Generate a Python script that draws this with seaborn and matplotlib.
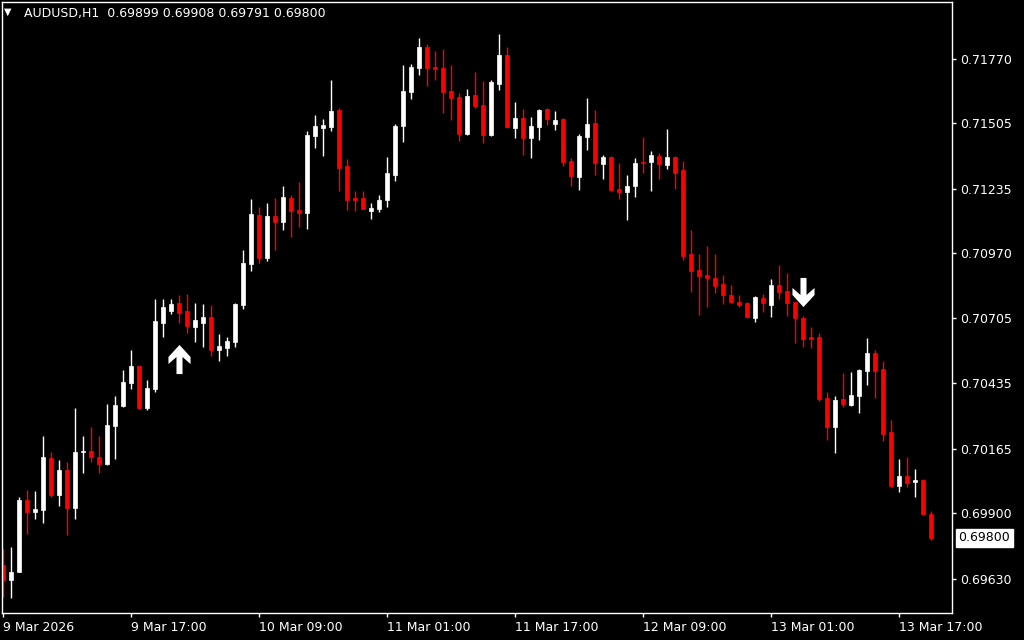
import numpy as np
import pandas as pd
import matplotlib
matplotlib.use("Agg")
import matplotlib.pyplot as plt
from matplotlib.path import Path
from matplotlib.ticker import FormatStrFormatter
import seaborn as sns

# --- data (AUDUSD H1) ---
symbol = "AUDUSD,H1"

opens = [0.69688, 0.69626, 0.69659, 0.69955, 0.69906, 0.69914, 0.70128, 0.69976, 0.70079, 0.69922,
         0.70153, 0.70157, 0.70132, 0.70103, 0.70260, 0.70342, 0.70437, 0.70507, 0.70334, 0.70412,
         0.70684, 0.70733, 0.70766, 0.70733, 0.70667, 0.70684, 0.70708, 0.70573, 0.70581, 0.70605,
         0.70758, 0.70926, 0.71128, 0.70951, 0.71124, 0.71099, 0.71198, 0.71149, 0.71136, 0.71453,
         0.71486, 0.71490, 0.71560, 0.71330, 0.71198, 0.71198, 0.71145, 0.71153, 0.71190, 0.71293,
         0.71494, 0.71634, 0.71733, 0.71819, 0.71737, 0.71733, 0.71638, 0.71614, 0.71461, 0.71622,
         0.71581, 0.71457, 0.71667, 0.71787, 0.71486, 0.71527, 0.71445, 0.71490, 0.71564, 0.71503,
         0.71523, 0.71350, 0.71284, 0.71449, 0.71507, 0.71338, 0.71367, 0.71235, 0.71223, 0.71247,
         0.71346, 0.71346, 0.71371, 0.71334, 0.71367, 0.71313, 0.70968, 0.70902, 0.70881, 0.70869,
         0.70844, 0.70799, 0.70770, 0.70766, 0.70704, 0.70787, 0.70758, 0.70840, 0.70815, 0.70770,
         0.70704, 0.70626, 0.70626, 0.70375, 0.70256, 0.70371, 0.70346, 0.70383, 0.70486, 0.70560,
         0.70494, 0.70235, 0.70013, 0.70054, 0.70029, 0.70038, 0.69899]
highs = [0.69754, 0.69762, 0.69968, 0.69996, 0.69992, 0.70219, 0.70153, 0.70120, 0.70112, 0.70334,
         0.70219, 0.70256, 0.70219, 0.70350, 0.70383, 0.70490, 0.70573, 0.70511, 0.70449, 0.70782,
         0.70782, 0.70782, 0.70799, 0.70803, 0.70766, 0.70762, 0.70758, 0.70638, 0.70626, 0.70765,
         0.70984, 0.71194, 0.71161, 0.71177, 0.71198, 0.71247, 0.71210, 0.71264, 0.71474, 0.71540,
         0.71523, 0.71684, 0.71568, 0.71358, 0.71227, 0.71227, 0.71177, 0.71210, 0.71367, 0.71503,
         0.71745, 0.71749, 0.71856, 0.71832, 0.71803, 0.71811, 0.71745, 0.71630, 0.71647, 0.71717,
         0.71680, 0.71684, 0.71873, 0.71819, 0.71593, 0.71564, 0.71531, 0.71564, 0.71568, 0.71556,
         0.71527, 0.71363, 0.71461, 0.71610, 0.71560, 0.71375, 0.71371, 0.71342, 0.71293, 0.71363,
         0.71449, 0.71391, 0.71383, 0.71482, 0.71371, 0.71350, 0.71066, 0.70968, 0.71000, 0.70968,
         0.70881, 0.70840, 0.70799, 0.70770, 0.70795, 0.70803, 0.70865, 0.70922, 0.70889, 0.70772,
         0.70712, 0.70667, 0.70643, 0.70400, 0.70383, 0.70478, 0.70482, 0.70494, 0.70622, 0.70573,
         0.70527, 0.70285, 0.70124, 0.70132, 0.70083, 0.70042, 0.69908]
lows = [0.69556, 0.69552, 0.69657, 0.69815, 0.69877, 0.69861, 0.69968, 0.69931, 0.69811, 0.69877,
        0.70066, 0.70112, 0.70066, 0.70101, 0.70124, 0.70338, 0.70412, 0.70330, 0.70326, 0.70400,
        0.70626, 0.70721, 0.70684, 0.70643, 0.70605, 0.70585, 0.70548, 0.70527, 0.70548, 0.70585,
        0.70741, 0.70898, 0.70931, 0.70939, 0.70984, 0.71066, 0.71038, 0.71079, 0.71070, 0.71404,
        0.71371, 0.71474, 0.71227, 0.71149, 0.71145, 0.71153, 0.71112, 0.71141, 0.71161, 0.71268,
        0.71428, 0.71605, 0.71704, 0.71659, 0.71684, 0.71548, 0.71519, 0.71433, 0.71457, 0.71568,
        0.71424, 0.71453, 0.71643, 0.71486, 0.71445, 0.71375, 0.71363, 0.71437, 0.71498, 0.71478,
        0.71330, 0.71247, 0.71231, 0.71396, 0.71293, 0.71276, 0.71227, 0.71194, 0.71108, 0.71202,
        0.71301, 0.71227, 0.71276, 0.71317, 0.71235, 0.70943, 0.70811, 0.70717, 0.70750, 0.70807,
        0.70762, 0.70766, 0.70750, 0.70704, 0.70688, 0.70729, 0.70708, 0.70782, 0.70712, 0.70601,
        0.70585, 0.70581, 0.70363, 0.70202, 0.70149, 0.70338, 0.70342, 0.70313, 0.70429, 0.70375,
        0.70198, 0.70009, 0.69988, 0.70009, 0.69968, 0.69894, 0.69791]
closes = [0.69626, 0.69659, 0.69955, 0.69906, 0.69918, 0.70132, 0.69976, 0.70079, 0.69922, 0.70153,
          0.70157, 0.70132, 0.70103, 0.70264, 0.70346, 0.70441, 0.70507, 0.70334, 0.70416, 0.70692,
          0.70750, 0.70762, 0.70725, 0.70671, 0.70696, 0.70708, 0.70573, 0.70589, 0.70610, 0.70762,
          0.70931, 0.71132, 0.70951, 0.71124, 0.71099, 0.71202, 0.71145, 0.71136, 0.71457, 0.71494,
          0.71498, 0.71556, 0.71321, 0.71190, 0.71190, 0.71153, 0.71157, 0.71190, 0.71301, 0.71494,
          0.71638, 0.71737, 0.71819, 0.71733, 0.71729, 0.71634, 0.71610, 0.71461, 0.71618, 0.71577,
          0.71457, 0.71675, 0.71787, 0.71490, 0.71527, 0.71445, 0.71494, 0.71560, 0.71523, 0.71519,
          0.71346, 0.71289, 0.71453, 0.71503, 0.71342, 0.71367, 0.71231, 0.71223, 0.71247, 0.71342,
          0.71342, 0.71375, 0.71338, 0.71367, 0.71301, 0.70959, 0.70898, 0.70877, 0.70869, 0.70836,
          0.70799, 0.70770, 0.70758, 0.70708, 0.70791, 0.70766, 0.70840, 0.70811, 0.70766, 0.70704,
          0.70618, 0.70618, 0.70371, 0.70256, 0.70367, 0.70350, 0.70387, 0.70490, 0.70560, 0.70486,
          0.70227, 0.70013, 0.70054, 0.70025, 0.70038, 0.69898, 0.69800]

time_ticks = [0, 16, 32, 48, 64, 80, 96, 112]
time_labels = ["9 Mar 2026", "9 Mar 17:00", "10 Mar 09:00", "11 Mar 01:00",
               "11 Mar 17:00", "12 Mar 09:00", "13 Mar 01:00", "13 Mar 17:00"]
price_ticks = [0.71770, 0.71505, 0.71235, 0.70970, 0.70705, 0.70435, 0.70165, 0.69900, 0.69630]

# signal arrows
buy_bars = [22]
buy_prices = [0.70536]
sell_bars = [100]
sell_prices = [0.70811]

df = pd.DataFrame({"bar": np.arange(len(opens)), "open": opens, "high": highs,
                   "low": lows, "close": closes})
df["bull"] = df["close"] >= df["open"]
df["color"] = np.where(df["bull"], "#ffffff", "#ff0000")
df["body_lo"] = df[["open", "close"]].min(axis=1)
df["body_h"] = (df["close"] - df["open"]).abs().clip(lower=0.00003)

# --- style ---
sns.set_style("dark", rc={"axes.facecolor": "black", "figure.facecolor": "black",
                          "axes.edgecolor": "white", "axes.grid": False,
                          "text.color": "white", "xtick.color": "white", "ytick.color": "white"})
plt.rcParams["font.family"] = ["DejaVu Sans"]

fig = plt.figure(figsize=(10.24, 6.4), dpi=100)
ax = fig.add_axes([2 / 1024, 27 / 640, 950 / 1024, 611 / 640])

# candles
ax.vlines(df["bar"], df["low"], df["high"], colors=df["color"], linewidth=1)
ax.bar(df["bar"], df["body_h"], bottom=df["body_lo"], width=0.62,
       color=df["color"], edgecolor=df["color"], linewidth=0.5)

# arrow markers
up_verts = [(0, 14.5), (11, 2.5), (11, -4.5), (3, 2.5), (3, -14.5), (-3, -14.5),
            (-3, 2.5), (-11, -4.5), (-11, 2.5), (0, 14.5)]
up_arrow = Path(up_verts, closed=True)
down_arrow = Path([(x, -y) for x, y in up_verts], closed=True)
sns.scatterplot(x=buy_bars, y=buy_prices, marker=up_arrow, s=440, color="white",
                linewidth=0, ax=ax, zorder=5)
sns.scatterplot(x=sell_bars, y=sell_prices, marker=down_arrow, s=440, color="white",
                linewidth=0, ax=ax, zorder=5)

ax.set_xlim(-0.125, 118.625)
ax.set_ylim(0.694903, 0.720046)

ax.yaxis.tick_right()
ax.set_yticks(price_ticks)
ax.yaxis.set_major_formatter(FormatStrFormatter("%.5f"))
ax.set_xticks(time_ticks)
ax.set_xticklabels(time_labels, ha="left")
ax.tick_params(axis="both", length=3, width=1, pad=3, labelsize=9, colors="white",
               direction="out", bottom=True, right=True, left=False)
ax.set_xlabel("")
ax.set_ylabel("")
for sp in ax.spines.values():
    sp.set_color("white")
    sp.set_linewidth(1)

# current price box
ax.annotate(f"{closes[-1]:.5f}", xy=(1, closes[-1]), xycoords=("axes fraction", "data"),
            xytext=(4.5, 0), textcoords="offset points", va="center", ha="left",
            fontsize=9, color="black", annotation_clip=False,
            bbox=dict(boxstyle="square,pad=0.2", fc="white", ec="white"))

# header
fig.text(4 / 1024, 1 - 12 / 640, "\u25bc", fontsize=7, color="white", va="center", ha="left")
fig.text(24 / 1024, 1 - 13 / 640,
         f"{symbol}  {opens[-1]:.5f} {highs[-1]:.5f} {lows[-1]:.5f} {closes[-1]:.5f}",
         fontsize=9, color="white", va="center", ha="left")

plt.savefig("out.png", dpi=100, facecolor="black")
